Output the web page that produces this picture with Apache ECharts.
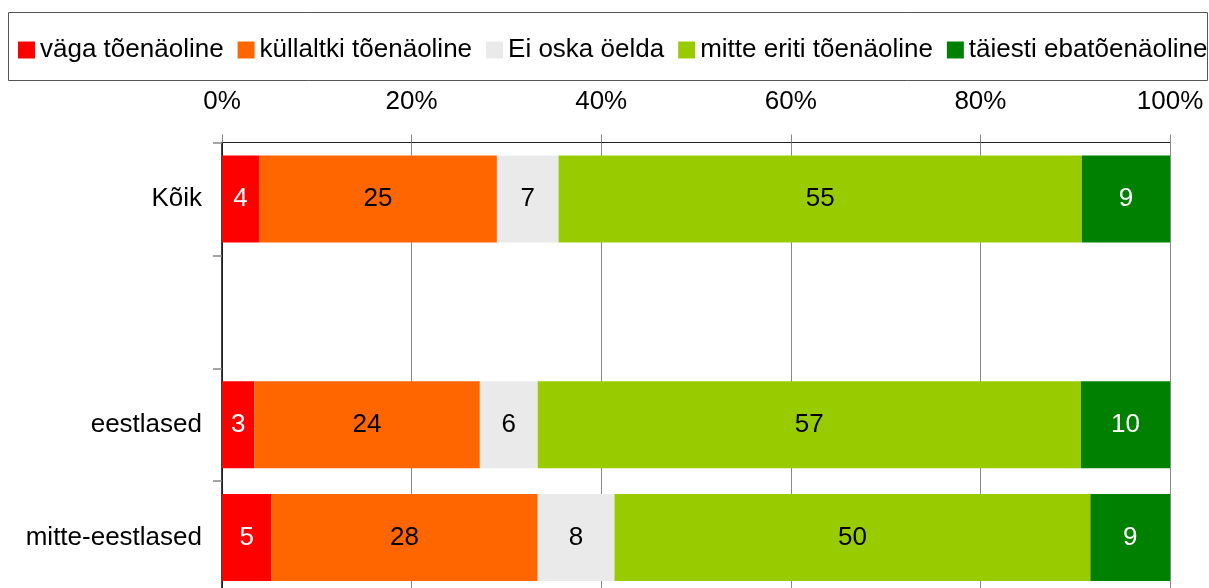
<!DOCTYPE html>
<html>
<head>
<meta charset="utf-8">
<script src="https://cdn.jsdelivr.net/npm/echarts@6/dist/echarts.min.js"></script>
<style>
  html, body { margin: 0; padding: 0; background: #fff; overflow: hidden; }
  #main { width: 1209px; height: 595px; }
</style>
</head>
<body>
<div id="main"></div>
<script>
// data
var categories = ['Kõik', '', 'eestlased', 'mitte-eestlased'];
var seriesNames = ['väga tõenäoline', 'küllaltki tõenäoline', 'Ei oska öelda', 'mitte eriti tõenäoline', 'täiesti ebatõenäoline'];
// shares (%) as measured from bar lengths
var vagaToen = [3.9, '-', 3.4, 5.2];
var kullaltkiToen = [25.1, '-', 23.8, 28.1];
var eiOska = [6.5, '-', 6.1, 8.1];
var mitteEriti = [55.2, '-', 57.3, 50.2];
var taiestiEbatoen = [9.3, '-', 9.4, 8.4];
// numbers printed on the bars
var vagaToenLbl = [4, '', 3, 5];
var kullaltkiToenLbl = [25, '', 24, 28];
var eiOskaLbl = [7, '', 6, 8];
var mitteEritiLbl = [55, '', 57, 50];
var taiestiEbatoenLbl = [9, '', 10, 9];
var tickValues = [0, 20, 40, 60, 80, 100];

var colors = ['#ff0000', '#ff6600', '#eaeaea', '#99cc00', '#008000'];
var labelColors = ['#fff', '#000', '#000', '#000', '#fff'];
var allData = [vagaToen, kullaltkiToen, eiOska, mitteEriti, taiestiEbatoen];
var allLbl = [vagaToenLbl, kullaltkiToenLbl, eiOskaLbl, mitteEritiLbl, taiestiEbatoenLbl];
var fontFam = "'Liberation Sans', Arial, sans-serif";

var dom = document.getElementById('main');
var myChart = echarts.init(dom);
var option = null;

var series = [];
for (var i = 0; i < seriesNames.length; i++) {
  series.push({
    name: seriesNames[i],
    type: 'bar',
    stack: 'total',
    barWidth: 87,
    data: allData[i],
    itemStyle: { color: colors[i] },
    label: {
      show: true,
      position: 'inside',
      color: labelColors[i],
      fontSize: 26,
      fontFamily: fontFam,
      formatter: function (p) {
        return String(allLbl[p.seriesIndex][p.dataIndex]);
      }
    }
  });
}

option = {
  animation: false,
  textStyle: { fontFamily: fontFam },
  graphic: [{
    type: 'rect',
    shape: { x: 8.5, y: 12.5, width: 1199, height: 68 },
    style: { fill: 'none', stroke: '#555', lineWidth: 1 },
    z: 0
  }],
  legend: {
    left: 13,
    top: 32,
    width: 1400,
    itemWidth: 17,
    itemHeight: 17,
    itemGap: 14,
    icon: 'rect',
    textStyle: { fontSize: 26, color: '#000', fontFamily: fontFam },
    data: seriesNames
  },
  grid: {
    left: 222,
    right: 39,
    top: 142.5,
    bottom: 1
  },
  xAxis: {
    type: 'value',
    position: 'top',
    min: tickValues[0],
    max: tickValues[tickValues.length - 1],
    interval: 20,
    axisLine: { show: true, lineStyle: { color: '#222', width: 1 } },
    axisTick: { show: true, length: 8, lineStyle: { color: '#888' } },
    axisLabel: { formatter: '{value}%', fontSize: 26, color: '#000', margin: 28, fontFamily: fontFam },
    splitLine: { show: true, lineStyle: { color: '#888', width: 1 } }
  },
  yAxis: {
    type: 'category',
    inverse: true,
    data: categories,
    axisLine: { show: true, lineStyle: { color: '#000', width: 1.5 } },
    axisTick: { show: true, length: 9, lineStyle: { color: '#888', width: 1.5 } },
    axisLabel: { fontSize: 26, color: '#000', margin: 20, fontFamily: fontFam },
    splitLine: { show: false }
  },
  series: series
};

// Invoke
if (option && typeof option === "object") {
  myChart.setOption(option, true);
}
</script>
</body>
</html>
